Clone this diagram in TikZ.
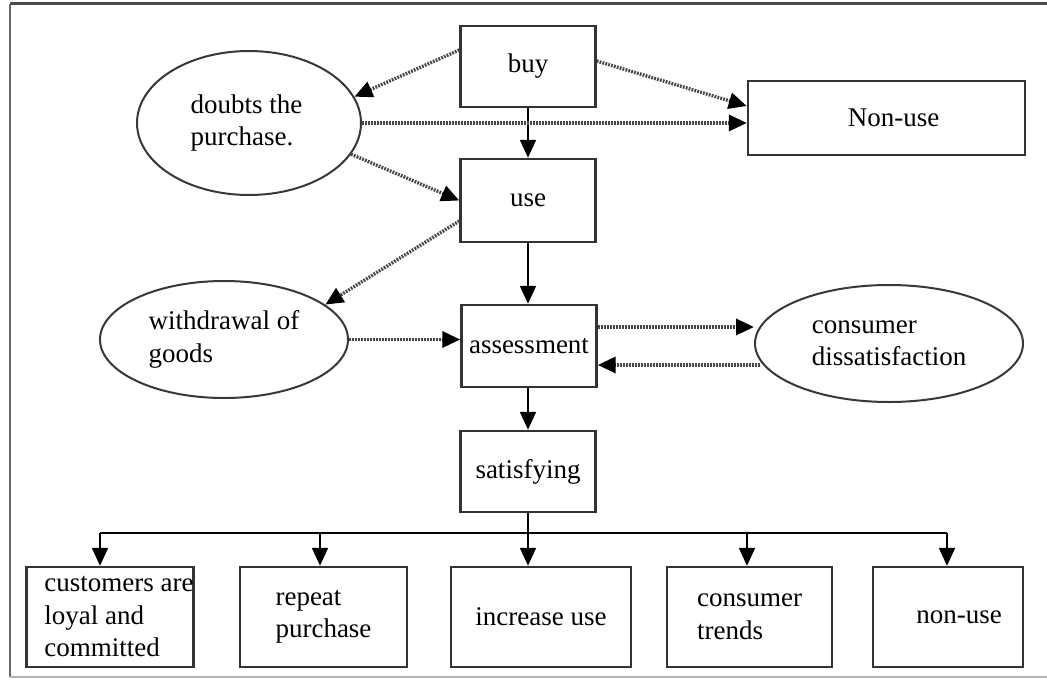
\documentclass[tikz,border=0pt]{standalone}
\usepackage{fontspec}
\setmainfont{Liberation Serif}
\usetikzlibrary{shapes.geometric,arrows.meta}

\tikzset{
  txt/.style={font=\fontsize{27pt}{32.5pt}\selectfont, align=left, inner sep=0pt},
  stepbox/.style={txt, rectangle, draw=black!80, line width=2.4pt, fill=white,
    minimum width=135pt, minimum height=82pt, align=center},
  outbox/.style={txt, rectangle, draw=black!80, line width=2.4pt, fill=white,
    minimum height=100pt},
  oval/.style={txt, ellipse, draw=black!78, line width=2pt, fill=white},
  tip/.style={-{Triangle[length=18pt,width=16pt,color=black]}},
  solidarr/.style={tip, draw=black, line width=2pt},
  dotarr/.style={tip, draw=black!72, line width=3.4pt, dash pattern=on 1.8pt off 1.2pt},
}

\begin{document}
\begin{tikzpicture}[x=1pt,y=-1pt]
\useasboundingbox (0,0) rectangle (1047,685);

% outer frame (open on the right)
\draw[black!70, line width=3pt] (1047,4) -- (10,4);
\draw[black!60, line width=2pt] (10,4) -- (10,677);
\draw[black!30, line width=1.5pt] (10,677) -- (1047,677);

% main chain
\node[stepbox, minimum height=81pt] (buy)    at (528,66.5)  {buy};
\node[stepbox, minimum height=83pt] (use)    at (528,200.5) {use};
\node[stepbox]                      (assess) at (529,346)   {assessment};
\node[stepbox, minimum height=81pt] (satis)  at (528,471.5) {satisfying};
\node[stepbox, minimum width=277pt, minimum height=74pt] (nonuse) at (886.5,118) {\hspace*{14pt}Non-use};

% side ellipses
\node[oval, minimum width=224pt, minimum height=144pt] (doubts)   at (249,123)   {doubts the\\purchase.\hspace*{14pt}};
\node[oval, minimum width=248pt, minimum height=117pt] (withdraw) at (224,339.5) {withdrawal of\\goods};
\node[oval, minimum width=268pt, minimum height=117pt] (dissat)   at (889,343.5) {consumer\\dissatisfaction};

% outcome boxes
\node[outbox, minimum width=166pt, align=left] (b1) at (110,617)   {\hspace*{18pt}customers are\\\hspace*{18pt}loyal and\\\hspace*{18pt}committed};
\node[outbox, minimum width=167pt, align=left] (b2) at (323.5,617) {repeat\\purchase};
\node[outbox, minimum width=180pt] (b3) at (541,617)   {increase use};
\node[outbox, minimum width=165pt, align=left] (b4) at (749.5,617) {consumer\\trends};
\node[outbox, minimum width=150pt] (b5) at (948,617)   {\hspace*{22pt}non-use};

% solid flow
\draw[solidarr] (buy.south) -- (use.north);
\draw[solidarr] (use.south) -- (use.south |- assess.north);
\draw[solidarr] (assess.south -| satis.south) -- (satis.north);

% branching bus
\coordinate (j1) at (100,533);
\coordinate (j2) at (320,533);
\coordinate (j3) at (528,533);
\coordinate (j4) at (747,533);
\coordinate (j5) at (947,533);
\draw[black, line width=2pt] (satis.south) -- (j3);
\draw[black, line width=2pt] (j1) -- (j5);
\draw[solidarr] (j1) -- (j1 |- b1.north);
\draw[solidarr] (j2) -- (j2 |- b2.north);
\draw[solidarr] (j3) -- (j3 |- b3.north);
\draw[solidarr] (j4) -- (j4 |- b4.north);
\draw[solidarr] (j5) -- (j5 |- b5.north);

% dotted side flows
\coordinate (buyL) at ([yshift=16.5pt]buy.west);
\coordinate (buyR) at ([yshift=5.5pt]buy.east);
\coordinate (nonT) at ([yshift=12pt]nonuse.west);
\coordinate (useL) at ([yshift=-20.5pt]use.west);
\coordinate (asR)  at ([yshift=19pt]assess.east);
\coordinate (disL) at ([yshift=-21.5pt,xshift=6pt]dissat.west);

\draw[dotarr] (buyL) -- (doubts.14);
\draw[dotarr] (buyR) -- (nonT);
\draw[dotarr] (doubts.east) -- (doubts.east -| nonuse.west);
\draw[dotarr] (doubts.-17.6) -- (use.west);
\draw[dotarr] (useL) -- (withdraw.19);
\draw[dotarr] (withdraw.east) -- (withdraw.east -| assess.west);
\draw[dotarr] (asR) -- (asR -| dissat.west);
\draw[dotarr] (disL) -- (disL -| assess.east);
\end{tikzpicture}
\end{document}
